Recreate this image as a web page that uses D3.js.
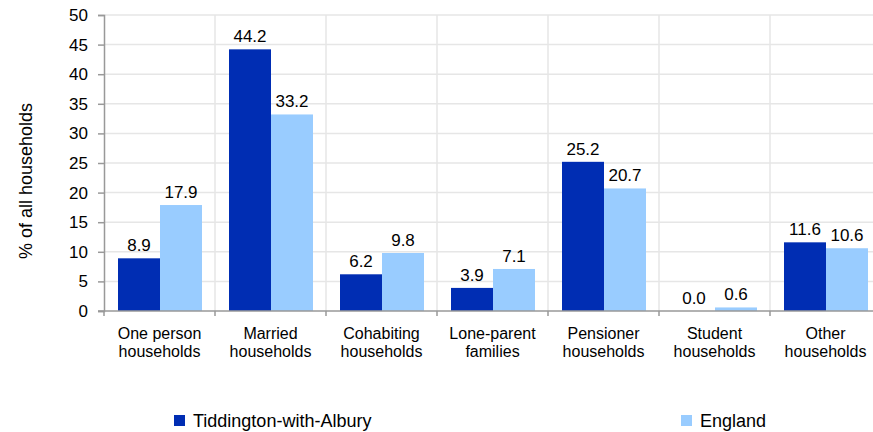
<!DOCTYPE html>
<html>
<head>
<meta charset="utf-8">
<script src="https://cdn.jsdelivr.net/npm/d3@7"></script>
<style>
  body { margin: 0; background: #fff; }
  text { font-family: "Liberation Sans", Arial, sans-serif; fill: #000; }
</style>
</head>
<body>
<svg id="chart"></svg>
<script>
const width = 873, height = 432;

const categories = [
  ["One person", "households"],
  ["Married", "households"],
  ["Cohabiting", "households"],
  ["Lone-parent", "families"],
  ["Pensioner", "households"],
  ["Student", "households"],
  ["Other", "households"]
];
const seriesNames = ["Tiddington-with-Albury", "England"];
const local = [8.9, 44.2, 6.2, 3.9, 25.2, 0.0, 11.6];
const england = [17.9, 33.2, 9.8, 7.1, 20.7, 0.6, 10.6];
const yTicks = [0, 5, 10, 15, 20, 25, 30, 35, 40, 45, 50];
const colors = ["#002db3", "#99ccff"];

const margin = {left: 104, top: 15, right: -8, bottom: 121};
const plotW = width - margin.left - margin.right;
const plotH = height - margin.top - margin.bottom;

const svg = d3.select("#chart")
              .attr("width", width)
              .attr("height", height);

const g = svg.append("g")
             .attr("transform", `translate(${margin.left},${margin.top})`);

const x = d3.scaleBand()
            .domain(d3.range(categories.length))
            .range([0, plotW])
            .paddingInner(0)
            .paddingOuter(0);

const y = d3.scaleLinear()
            .domain([0, 50])
            .range([plotH, 0]);

const xInner = d3.scaleBand()
                 .domain([0, 1])
                 .range([14, x.bandwidth() - 13]);

// gridlines
g.selectAll(".hgrid")
 .data(yTicks.slice(1))
 .enter()
 .append("line")
 .attr("x1", 0).attr("x2", plotW)
 .attr("y1", d => y(d)).attr("y2", d => y(d))
 .attr("stroke", "#e6e6e6").attr("stroke-width", 1.5);

g.selectAll(".vgrid")
 .data(d3.range(1, categories.length + 1))
 .enter()
 .append("line")
 .attr("x1", d => d * x.step()).attr("x2", d => d * x.step())
 .attr("y1", 0).attr("y2", plotH)
 .attr("stroke", "#e6e6e6").attr("stroke-width", 1.5);

// bars
const groups = g.selectAll(".cat")
                .data(categories.map((c, i) => [local[i], england[i]]))
                .enter()
                .append("g")
                .attr("transform", (d, i) => `translate(${x(i)},0)`);

groups.selectAll("rect")
      .data(d => d)
      .enter()
      .append("rect")
      .attr("x", (d, j) => xInner(j))
      .attr("width", xInner.bandwidth())
      .attr("y", d => y(d))
      .attr("height", d => plotH - y(d))
      .attr("fill", (d, j) => colors[j]);

groups.selectAll(".val")
      .data(d => d)
      .enter()
      .append("text")
      .attr("x", (d, j) => xInner(j) + xInner.bandwidth() / 2)
      .attr("y", d => y(d) - 7)
      .attr("text-anchor", "middle")
      .style("font-size", "17px")
      .text(d => d.toFixed(1));

// y axis
const yAxis = g.append("g")
               .call(d3.axisLeft(y).tickValues(yTicks).tickSize(6).tickPadding(10));
yAxis.select(".domain").attr("stroke", "#999").attr("stroke-width", 1.5);
yAxis.selectAll(".tick line").attr("stroke", "#999").attr("stroke-width", 1.5);
yAxis.selectAll("text").style("font-size", "17px").attr("fill", "#000");

// x axis
g.append("line")
 .attr("x1", -6).attr("x2", plotW)
 .attr("y1", plotH).attr("y2", plotH)
 .attr("stroke", "#999").attr("stroke-width", 1.5);

g.selectAll(".xtick")
 .data(d3.range(0, categories.length + 1))
 .enter()
 .append("line")
 .attr("x1", d => d * x.step()).attr("x2", d => d * x.step())
 .attr("y1", plotH).attr("y2", plotH + 5)
 .attr("stroke", "#999").attr("stroke-width", 1.5);

const xl = g.selectAll(".xlab")
            .data(categories)
            .enter()
            .append("text")
            .attr("text-anchor", "middle")
            .attr("transform", (d, i) => `translate(${x(i) + x.bandwidth() / 2},${plotH + 28})`)
            .style("font-size", "16px");
xl.selectAll("tspan")
  .data(d => d)
  .enter()
  .append("tspan")
  .attr("x", 0)
  .attr("dy", (d, j) => j === 0 ? 0 : 18)
  .text(d => d);

// y title
svg.append("text")
   .attr("transform", "translate(32,181) rotate(-90)")
   .attr("text-anchor", "middle")
   .style("font-size", "18px")
   .text("% of all households");

// legend
const legendX = [174, 681];
const legend = svg.selectAll(".legend")
                  .data(seriesNames)
                  .enter()
                  .append("g")
                  .attr("transform", (d, i) => `translate(${legendX[i]},415)`);
legend.append("rect")
      .attr("width", 11).attr("height", 11)
      .attr("fill", (d, i) => colors[i]);
legend.append("text")
      .attr("x", 19).attr("y", 11.5)
      .style("font-size", "18px")
      .text(d => d);
</script>
</body>
</html>
